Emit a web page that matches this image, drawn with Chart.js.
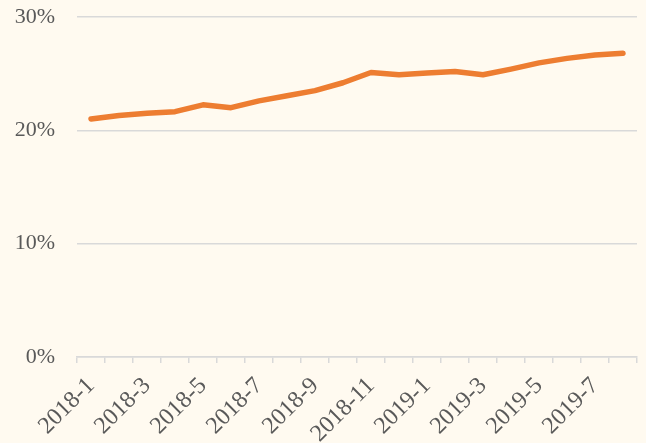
<!DOCTYPE html>
<html>
<head>
<meta charset="utf-8">
<script src="https://cdn.jsdelivr.net/npm/chart.js@4/dist/chart.umd.min.js"></script>
<style>
  html, body { margin: 0; padding: 0; background: #FFFAF0; }
  #wrap { width: 646px; height: 443px; }
</style>
</head>
<body>
<div id="wrap"><canvas id="chart"></canvas></div>
<script>
const months = ["2018-1", "2018-2", "2018-3", "2018-4", "2018-5", "2018-6", "2018-7", "2018-8", "2018-9", "2018-10",
  "2018-11", "2018-12", "2019-1", "2019-2", "2019-3", "2019-4", "2019-5", "2019-6", "2019-7", "2019-8"]; // x-axis
const share = [21.0, 21.3, 21.5, 21.65, 22.25, 22.0, 22.6, 23.05, 23.5, 24.2,
  25.1, 24.9, 25.05, 25.2, 24.9, 25.4, 25.95, 26.35, 26.65, 26.8]; // percent
const yTicks = [0, 10, 20, 30];

const plots = document.getElementById("chart");

new Chart(plots, {
  type: "line",
  data: {
    labels: months,
    datasets: [
      {
        data: share,
        borderColor: "#ED7D31",
        borderWidth: 5.5,
        pointRadius: 0,
        tension: 0,
        borderCapStyle: "round",
        borderJoinStyle: "round",
      },
    ],
  },
  options: {
    responsive: true,
    maintainAspectRatio: false,
    animation: false,
    layout: { padding: { top: 17, right: 9, bottom: 0, left: 0 } },
    plugins: { legend: { display: false }, tooltip: { enabled: false } },
    scales: {
      x: {
        offset: true,
        grid: { offset: true, drawOnChartArea: false, drawTicks: true, tickLength: 6, color: "#D9D9D9", lineWidth: 1.5 },
        border: { color: "#D9D9D9", width: 1.5 },
        ticks: {
          autoSkip: false,
          maxRotation: 45,
          minRotation: 45,
          padding: 9,
          color: "#595959",
          font: { family: "Liberation Serif", size: 24 },
          callback: function (v, i) { return i % 2 === 0 ? months[i] : ""; },
        },
        afterFit: function (s) { s.height = 86; s.paddingTop = 0; s.paddingLeft = 0; s.paddingRight = 0; },
      },
      y: {
        min: yTicks[0],
        max: yTicks[yTicks.length - 1],
        afterBuildTicks: function (s) { s.ticks = yTicks.map(function (v) { return { value: v }; }); },
        grid: { color: "#D9D9D9", lineWidth: 1.5, drawTicks: false },
        border: { display: false },
        ticks: {
          padding: 22,
          color: "#595959",
          font: { family: "Liberation Serif", size: 22 },
          callback: function (v) { return v + "%"; },
        },
        afterFit: function (s) { s.width = 77; s.paddingTop = 0; s.paddingBottom = 0; },
      },
    },
  },
});
</script>
</body>
</html>
